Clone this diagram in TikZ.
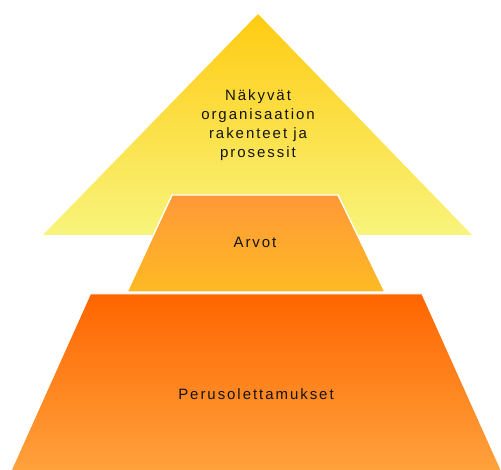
\documentclass[tikz,border=0pt]{standalone}
\usepackage{fontspec}
\setmainfont{Liberation Sans}
\newfontfamily\labfont[LetterSpace=13]{Liberation Sans}
\definecolor{triTop}{HTML}{FFCB12}
\definecolor{triBot}{HTML}{F8F47C}
\definecolor{midTop}{HTML}{FF9838}
\definecolor{midBot}{HTML}{FFBA24}
\definecolor{botTop}{HTML}{FF6500}
\definecolor{botBot}{HTML}{FFA23C}
\definecolor{txt}{HTML}{141414}
\tikzset{
  lab/.style={font=\labfont\fontsize{15}{19.2}\selectfont, text=txt, align=center, inner sep=0pt}
}
\begin{document}
\begin{tikzpicture}[x=1pt,y=-1pt]
\useasboundingbox (0,0) rectangle (501,470);
% top triangle
\shade[top color=triTop, bottom color=triBot] (258,14) -- (472,235) -- (43,235) -- cycle;
% bottom trapezoid
\shade[top color=botTop, bottom color=botBot] (91,294) -- (422,294) -- (501,470) -- (12,470) -- cycle;
\draw[white, line width=0.8pt] (91,294) -- (422,294) -- (501,470);
% middle trapezoid
\shade[top color=midTop, bottom color=midBot] (172,195) -- (338,195) -- (385,292) -- (127,292) -- cycle;
\draw[white, line width=1.4pt] (172,195) -- (338,195) -- (385,292) -- (127,292) -- cycle;
% labels
\node[lab] (t1) at (258,125) {Näkyvät\\organisaation\\rakenteet ja\\prosessit};
\node[lab] (t2) at (255,242) {Arvot};
\node[lab] (t3) at (256,394) {Perusolettamukset};
\end{tikzpicture}
\end{document}
